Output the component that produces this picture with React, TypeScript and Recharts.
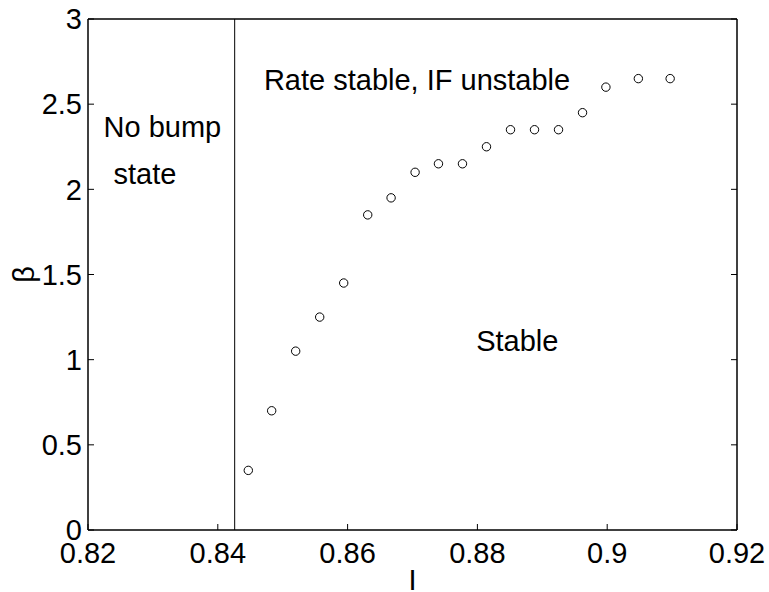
import React from "react";
import {
  ScatterChart,
  Scatter,
  XAxis,
  YAxis,
  ReferenceLine,
  ReferenceDot,
} from "recharts";

// stability boundary points
const currentI = [
  0.8447, 0.8483, 0.852, 0.8557, 0.8594, 0.8631, 0.8667, 0.8704, 0.874,
  0.8777, 0.8814, 0.8851, 0.8888, 0.8925, 0.8962, 0.8998, 0.9048, 0.9097,
];
const betaValues = [
  0.35, 0.7, 1.05, 1.25, 1.45, 1.85, 1.95, 2.1, 2.15, 2.15, 2.25, 2.35, 2.35,
  2.35, 2.45, 2.6, 2.65, 2.65,
];

const xTicks = [0.82, 0.84, 0.86, 0.88, 0.9, 0.92];
const yTicks = [0, 0.5, 1, 1.5, 2, 2.5, 3];

// existence threshold of the bump state
const bumpThreshold = 0.8426;

const regionLabels = [
  { text: "Rate stable, IF unstable", I: 0.8707, beta: 2.641 },
  { text: "No bump", I: 0.83146, beta: 2.365 },
  { text: "state", I: 0.82877, beta: 2.09 },
  { text: "Stable", I: 0.88615, beta: 1.112 },
];

const points = currentI.map((I, i) => ({ I, beta: betaValues[i] }));

const FONT = 29;
const fmt = (v: number) => String(v);
const TICK = { stroke: "#000", strokeWidth: 1 };
const AXIS = { stroke: "#000", strokeWidth: 1.5 };
// mirrored axes keep their tick marks but draw no labels
const NoLabel = () => <g />;

const OpenCircle = (p: any) => (
  <circle cx={p.cx} cy={p.cy} r={4.2} fill="none" stroke="#000" strokeWidth={1} />
);

export default function App() {
  return (
    <div style={{ position: "absolute", left: 0, top: 0, background: "#fff" }}>
      <ScatterChart
        width={769}
        height={592}
        margin={{ top: 18, right: 31, bottom: 0, left: 0 }}
        style={{ fontFamily: "'Liberation Sans', Arial, sans-serif" }}
      >
        <XAxis
          dataKey="I"
          type="number"
          domain={[0.82, 0.92]}
          ticks={xTicks}
          tickFormatter={fmt}
          height={62}
          tickSize={-6}
          tickMargin={18}
          axisLine={AXIS}
          tickLine={TICK}
          tick={{ fill: "#000", fontSize: FONT }}
          allowDataOverflow
          label={{ value: "I", position: "center", dy: 19, fontSize: FONT, fill: "#000" }}
        />
        <XAxis
          xAxisId="top"
          orientation="top"
          type="number"
          domain={[0.82, 0.92]}
          ticks={xTicks}
          height={1}
          tickSize={-6}
          tick={NoLabel}
          axisLine={AXIS}
          tickLine={TICK}
          allowDataOverflow
        />
        <YAxis
          dataKey="beta"
          type="number"
          domain={[0, 3]}
          ticks={yTicks}
          tickFormatter={fmt}
          width={88}
          tickSize={-6}
          tickMargin={12}
          axisLine={AXIS}
          tickLine={TICK}
          tick={{ fill: "#000", fontSize: FONT }}
          allowDataOverflow
          label={{ value: "β", angle: -90, position: "center", dx: -20, fontSize: FONT, fill: "#000" }}
        />
        <YAxis
          yAxisId="right"
          orientation="right"
          type="number"
          domain={[0, 3]}
          ticks={yTicks}
          width={1}
          tickSize={-6}
          tick={NoLabel}
          axisLine={AXIS}
          tickLine={TICK}
          allowDataOverflow
        />
        <ReferenceLine x={bumpThreshold} stroke="#000" strokeWidth={1} />
        {regionLabels.map((l) => (
          <ReferenceDot
            key={l.text}
            x={l.I}
            y={l.beta}
            r={0}
            fill="none"
            stroke="none"
            label={{ value: l.text, position: "center", fontSize: FONT, fill: "#000" }}
          />
        ))}
        <Scatter data={points} shape={OpenCircle} isAnimationActive={false} />
      </ScatterChart>
    </div>
  );
}
